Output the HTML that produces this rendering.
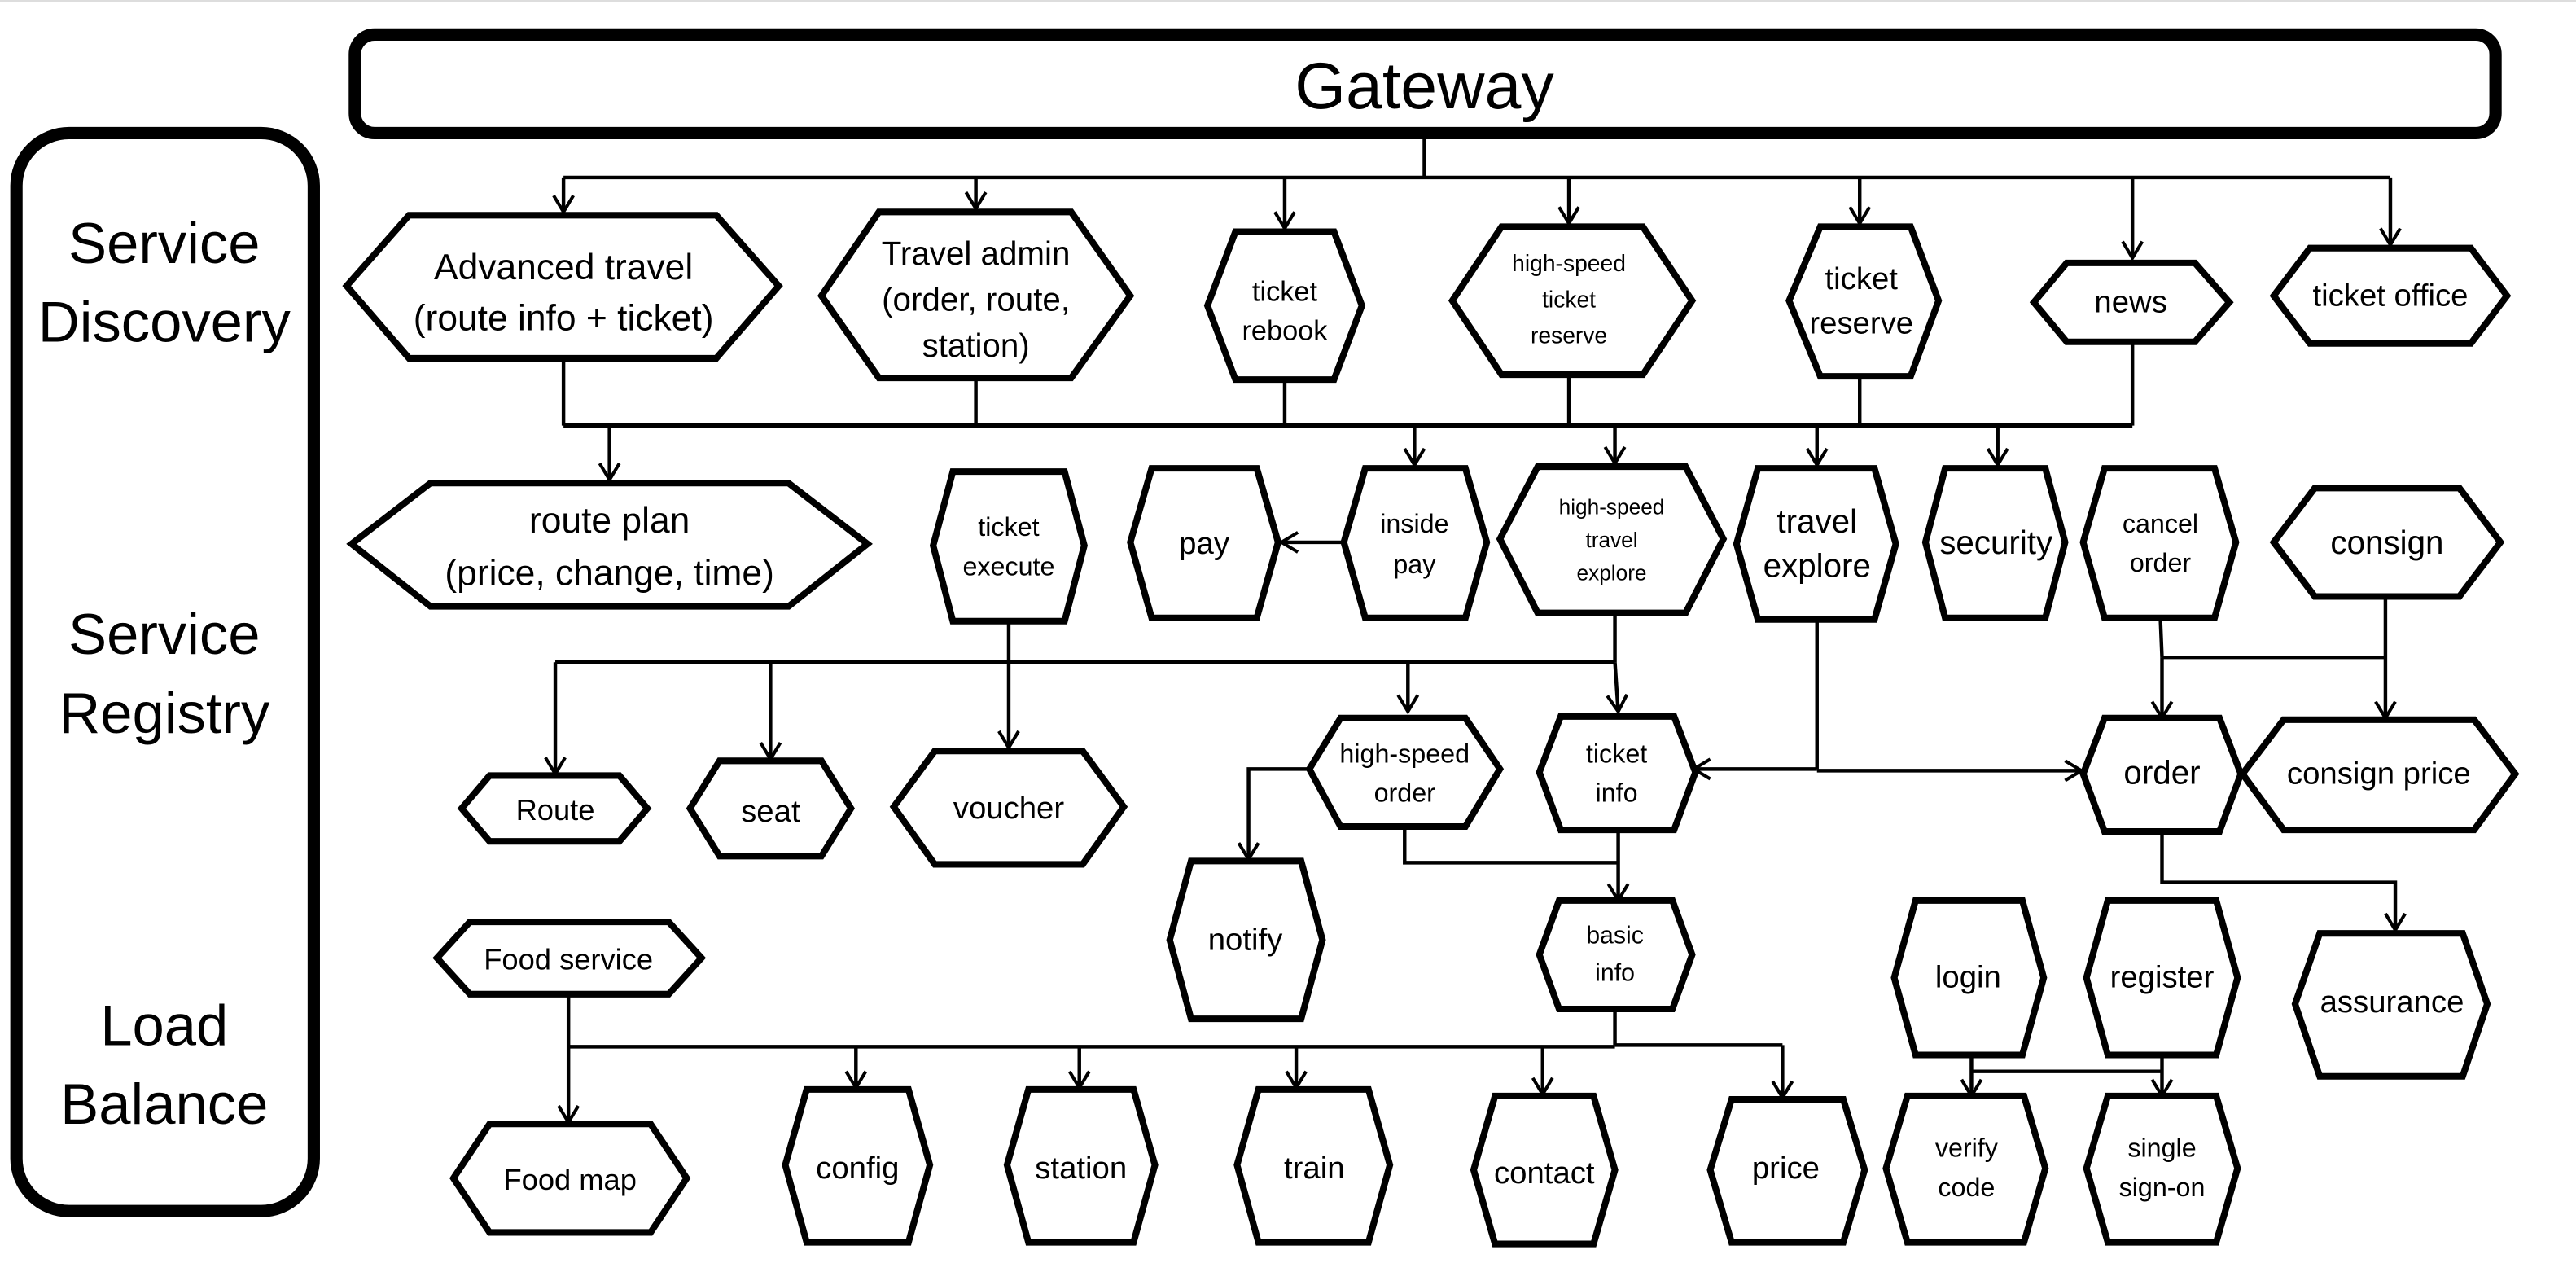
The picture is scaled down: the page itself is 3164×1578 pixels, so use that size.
<!DOCTYPE html>
<html><head><meta charset="utf-8"><style>
html,body{margin:0;padding:0;background:#fff;}
svg{display:block;}
text{font-family:"Liberation Sans Narrow","Liberation Sans",sans-serif;fill:#000;text-anchor:middle;}
</style></head><body>
<svg width="3164" height="1578" viewBox="0 0 1568 782" preserveAspectRatio="none" xmlns="http://www.w3.org/2000/svg">
<defs>
<marker id="a" markerUnits="userSpaceOnUse" markerWidth="14" markerHeight="14" refX="11" refY="7" orient="auto">
<path d="M1,1 L11,7 L1,13" fill="none" stroke="#000" stroke-width="2"/>
</marker>
</defs>
<line x1="0" y1="0.5" x2="1568" y2="0.5" stroke="#ddd" stroke-width="1.5"/>
<rect x="10" y="81" width="181" height="656" rx="32" fill="none" stroke="#000" stroke-width="7.5"/>
<rect x="216" y="21" width="1303" height="60" rx="12" fill="none" stroke="#000" stroke-width="7.5"/>
<text x="867" y="66" font-size="40" style="font-family:'Liberation Sans',sans-serif">Gateway</text>
<g font-size="35">
<text x="100" y="160">Service</text><text x="100" y="208">Discovery</text>
<text x="100" y="398">Service</text><text x="100" y="446">Registry</text>
<text x="100" y="636">Load</text><text x="100" y="684">Balance</text>
</g>

<g fill="none" stroke="#000" stroke-width="2.2">
<!-- gateway bus -->
<polyline points="867,81 867,108"/>
<line x1="343" y1="108" x2="1455" y2="108"/>
<line x1="343" y1="108" x2="343" y2="129" marker-end="url(#a)"/>
<line x1="594" y1="108" x2="594" y2="127" marker-end="url(#a)"/>
<line x1="782" y1="108" x2="782" y2="139" marker-end="url(#a)"/>
<line x1="955" y1="108" x2="955" y2="136" marker-end="url(#a)"/>
<line x1="1132" y1="108" x2="1132" y2="136" marker-end="url(#a)"/>
<line x1="1298" y1="108" x2="1298" y2="157" marker-end="url(#a)"/>
<line x1="1455" y1="108" x2="1455" y2="149" marker-end="url(#a)"/>
<!-- bus 2 -->
<line x1="343" y1="218" x2="343" y2="259"/>
<line x1="594" y1="230" x2="594" y2="259"/>
<line x1="782" y1="230" x2="782" y2="259"/>
<line x1="955" y1="228" x2="955" y2="259"/>
<line x1="1132" y1="228" x2="1132" y2="259"/>
<line x1="1298" y1="208" x2="1298" y2="259"/>
<line x1="343" y1="259" x2="1298" y2="259" stroke-width="3"/>
<line x1="371" y1="259" x2="371" y2="292" marker-end="url(#a)"/>
<line x1="861" y1="259" x2="861" y2="283" marker-end="url(#a)"/>
<line x1="983" y1="259" x2="983" y2="282" marker-end="url(#a)"/>
<line x1="1106" y1="259" x2="1106" y2="283" marker-end="url(#a)"/>
<line x1="1216" y1="259" x2="1216" y2="283" marker-end="url(#a)"/>
<!-- inside pay -> pay -->
<line x1="818" y1="330" x2="780" y2="330" marker-end="url(#a)"/>
<!-- row 3 bus -->
<line x1="614" y1="379" x2="614" y2="455" marker-end="url(#a)"/>
<line x1="338" y1="403" x2="983" y2="403"/>
<line x1="983" y1="372" x2="983" y2="403"/>
<line x1="338" y1="403" x2="338" y2="471" marker-end="url(#a)"/>
<line x1="469" y1="403" x2="469" y2="462" marker-end="url(#a)"/>
<line x1="857" y1="403" x2="857" y2="433" marker-end="url(#a)"/>
<line x1="983" y1="403" x2="985" y2="433" marker-end="url(#a)"/>
<!-- travel explore -->
<line x1="1106" y1="377" x2="1106" y2="468"/>
<line x1="1106" y1="468" x2="1031" y2="468" marker-end="url(#a)"/>
<line x1="1106" y1="469" x2="1267" y2="469" marker-end="url(#a)"/>
<!-- cancel order / consign -->
<line x1="1315" y1="376" x2="1316" y2="400"/>
<line x1="1316" y1="400" x2="1452" y2="400"/>
<line x1="1316" y1="400" x2="1316" y2="437" marker-end="url(#a)"/>
<line x1="1452" y1="364" x2="1452" y2="437" marker-end="url(#a)"/>
<!-- high-speed order -->
<polyline points="799,468 760,468 760,523" marker-end="url(#a)"/>
<polyline points="855,504 855,525 985,525"/>
<line x1="985" y1="505" x2="985" y2="548" marker-end="url(#a)"/>
<!-- order -> assurance -->
<polyline points="1316,506 1316,537 1458,537 1458,566" marker-end="url(#a)"/>
<!-- basic info bus -->
<line x1="983" y1="615" x2="983" y2="636"/>
<line x1="346" y1="606" x2="346" y2="683" marker-end="url(#a)"/>
<line x1="346" y1="637" x2="983" y2="637"/>
<line x1="983" y1="636" x2="1085" y2="636"/>
<line x1="521" y1="637" x2="521" y2="662" marker-end="url(#a)"/>
<line x1="657" y1="637" x2="657" y2="662" marker-end="url(#a)"/>
<line x1="789" y1="637" x2="789" y2="662" marker-end="url(#a)"/>
<line x1="939" y1="637" x2="939" y2="666" marker-end="url(#a)"/>
<line x1="1085" y1="636" x2="1085" y2="668" marker-end="url(#a)"/>
<!-- login/register -->
<line x1="1200" y1="642" x2="1200" y2="667" marker-end="url(#a)"/>
<line x1="1200" y1="652" x2="1316" y2="652"/>
<line x1="1316" y1="642" x2="1316" y2="667" marker-end="url(#a)"/>
</g>

<g fill="#fff" stroke="#000" stroke-width="4" stroke-linejoin="miter">
<polygon points="249,131 436,131 474,174 436,218 249,218 211,174"/>
<polygon points="535,129 652,129 688,180 652,230 535,230 500,180"/>
<polygon points="752,141 812,141 829,186 812,231 752,231 735,186"/>
<polygon points="914,138 1000,138 1030,183 1000,228 914,228 884,183"/>
<polygon points="1108,138 1163,138 1180,183 1163,229 1108,229 1089,183"/>
<polygon points="1258,160 1336,160 1357,184 1336,208 1258,208 1238,184"/>
<polygon points="1406,151 1504,151 1526,180 1504,209 1406,209 1384,180"/>
<!-- row 2 -->
<polygon points="262,294 480,294 528,331 480,369 262,369 214,331"/>
<polygon points="580,287 648,287 660,332 648,378 580,378 568,332"/>
<polygon points="701,285 765,285 778,330 765,376 701,376 688,330"/>
<polygon points="831,285 892,285 905,330 892,376 831,376 818,330"/>
<polygon points="936,284 1026,284 1049,328 1026,373 936,373 913,328"/>
<polygon points="1070,285 1141,285 1154,331 1141,377 1070,377 1057,331"/>
<polygon points="1184,285 1245,285 1257,330 1245,376 1184,376 1172,330"/>
<polygon points="1281,285 1348,285 1361,330 1348,376 1281,376 1268,330"/>
<polygon points="1409,297 1497,297 1522,330 1497,363 1409,363 1384,330"/>
<!-- row 3 -->
<polygon points="298,472 377,472 394,492 377,512 298,512 281,492"/>
<polygon points="438,463 500,463 518,492 500,521 438,521 420,492"/>
<polygon points="569,457 659,457 684,491 659,526 569,526 544,491"/>
<polygon points="816,437 892,437 913,468 892,503 816,503 797,468"/>
<polygon points="950,436 1019,436 1032,470 1019,505 950,505 937,470"/>
<polygon points="1281,437 1351,437 1364,471 1351,506 1281,506 1268,471"/>
<polygon points="1390,438 1506,438 1531,471 1506,505 1390,505 1365,471"/>
<!-- row 4 -->
<polygon points="725,524 792,524 805,572 792,620 725,620 712,572"/>
<polygon points="949,548 1018,548 1030,581 1018,614 949,614 937,581"/>
<polygon points="286,561 407,561 427,583 407,605 286,605 266,583"/>
<polygon points="1166,548 1231,548 1244,595 1231,642 1166,642 1153,595"/>
<polygon points="1283,548 1349,548 1362,595 1349,642 1283,642 1270,595"/>
<polygon points="1412,568 1499,568 1514,611 1499,655 1412,655 1397,611"/>
<!-- row 5 -->
<polygon points="298,684 396,684 418,717 396,750 298,750 276,717"/>
<polygon points="491,663 553,663 566,709 553,756 491,756 478,709"/>
<polygon points="626,663 690,663 703,709 690,756 626,756 613,709"/>
<polygon points="766,663 833,663 846,709 833,756 766,756 753,709"/>
<polygon points="910,667 970,667 983,712 970,757 910,757 897,712"/>
<polygon points="1054,669 1122,669 1135,712 1122,756 1054,756 1041,712"/>
<polygon points="1161,667 1232,667 1245,711 1232,756 1161,756 1148,711"/>
<polygon points="1283,667 1349,667 1362,711 1349,756 1283,756 1270,711"/>
</g>

<g>
<text x="343" y="170" font-size="22">Advanced travel</text>
<text x="343" y="201" font-size="22">(route info + ticket)</text>
<text x="594" y="161" font-size="20">Travel admin</text>
<text x="594" y="189" font-size="20">(order, route,</text>
<text x="594" y="217" font-size="20">station)</text>
<text x="782" y="183" font-size="17">ticket</text>
<text x="782" y="207" font-size="17">rebook</text>
<text x="955" y="165" font-size="14">high-speed</text>
<text x="955" y="187" font-size="14">ticket</text>
<text x="955" y="209" font-size="14">reserve</text>
<text x="1133" y="176" font-size="19">ticket</text>
<text x="1133" y="203" font-size="19">reserve</text>
<text x="1297" y="190" font-size="19">news</text>
<text x="1455" y="186" font-size="19">ticket office</text>

<text x="371" y="324" font-size="22">route plan</text>
<text x="371" y="356" font-size="22">(price, change, time)</text>
<text x="614" y="326" font-size="16">ticket</text>
<text x="614" y="350" font-size="16">execute</text>
<text x="733" y="337" font-size="19">pay</text>
<text x="861" y="324" font-size="16">inside</text>
<text x="861" y="349" font-size="16">pay</text>
<text x="981" y="313" font-size="13">high-speed</text>
<text x="981" y="333" font-size="13">travel</text>
<text x="981" y="353" font-size="13">explore</text>
<text x="1106" y="324" font-size="20">travel</text>
<text x="1106" y="351" font-size="20">explore</text>
<text x="1215" y="337" font-size="20">security</text>
<text x="1315" y="324" font-size="16">cancel</text>
<text x="1315" y="348" font-size="16">order</text>
<text x="1453" y="337" font-size="20">consign</text>

<text x="338" y="499" font-size="18">Route</text>
<text x="469" y="500" font-size="19">seat</text>
<text x="614" y="498" font-size="19">voucher</text>
<text x="855" y="464" font-size="16">high-speed</text>
<text x="855" y="488" font-size="16">order</text>
<text x="984" y="464" font-size="16">ticket</text>
<text x="984" y="488" font-size="16">info</text>
<text x="1316" y="477" font-size="20">order</text>
<text x="1448" y="477" font-size="19">consign price</text>

<text x="758" y="578" font-size="19">notify</text>
<text x="983" y="574" font-size="15">basic</text>
<text x="983" y="597" font-size="15">info</text>
<text x="346" y="590" font-size="18">Food service</text>
<text x="1198" y="601" font-size="19">login</text>
<text x="1316" y="601" font-size="19">register</text>
<text x="1456" y="616" font-size="19">assurance</text>

<text x="347" y="724" font-size="18">Food map</text>
<text x="522" y="717" font-size="19">config</text>
<text x="658" y="717" font-size="19">station</text>
<text x="800" y="717" font-size="19">train</text>
<text x="940" y="720" font-size="19">contact</text>
<text x="1087" y="717" font-size="19">price</text>
<text x="1197" y="704" font-size="16">verify</text>
<text x="1197" y="728" font-size="16">code</text>
<text x="1316" y="704" font-size="16">single</text>
<text x="1316" y="728" font-size="16">sign-on</text>
</g>
</svg>
</body></html>
